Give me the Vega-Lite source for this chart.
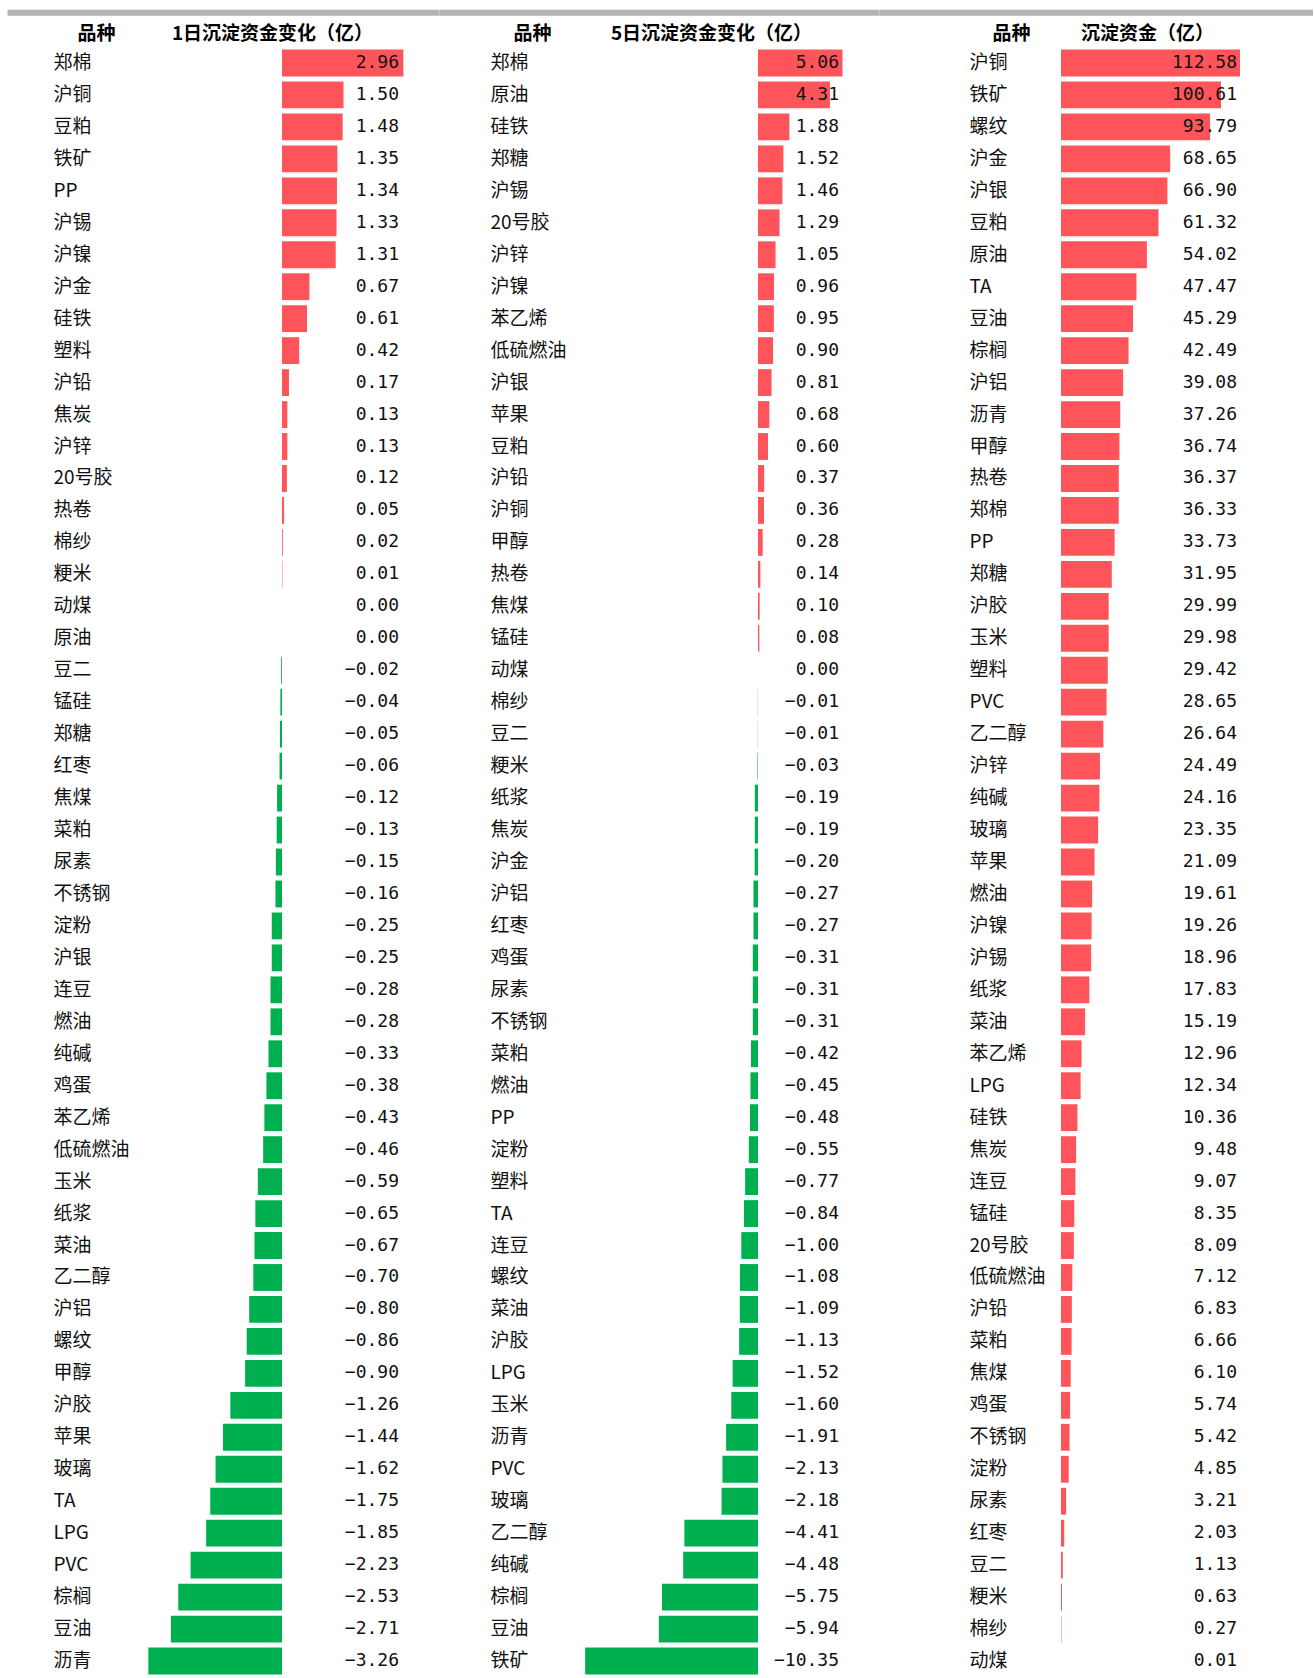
{
  "$schema": "https://vega.github.io/schema/vega-lite/v6.json",
  "background": "white",
  "padding": {"left": 7, "top": 12, "right": 0, "bottom": 0},
  "spacing": 0,
  "bounds": "flush",
  "config": {
    "view": {"stroke": null},
    "axis": {
      "grid": false,
      "ticks": false,
      "tickSize": 0,
      "titleFont": "Noto Sans CJK SC",
      "titleFontSize": 19,
      "titleFontWeight": "bold",
      "titleColor": "#000000",
      "titleAngle": 0,
      "titleAlign": "center",
      "titleBaseline": "middle",
      "labelFont": "Noto Sans CJK SC",
      "labelFontSize": 19,
      "labelColor": "#111111"
    }
  },
  "datasets": {
    "d1": [
      {"name": "郑棉", "value": 2.96}, {"name": "沪铜", "value": 1.50}, {"name": "豆粕", "value": 1.48},
      {"name": "铁矿", "value": 1.35}, {"name": "PP", "value": 1.34}, {"name": "沪锡", "value": 1.33},
      {"name": "沪镍", "value": 1.31}, {"name": "沪金", "value": 0.67}, {"name": "硅铁", "value": 0.61},
      {"name": "塑料", "value": 0.42}, {"name": "沪铅", "value": 0.17}, {"name": "焦炭", "value": 0.13},
      {"name": "沪锌", "value": 0.13}, {"name": "20号胶", "value": 0.12}, {"name": "热卷", "value": 0.05},
      {"name": "棉纱", "value": 0.02}, {"name": "粳米", "value": 0.01}, {"name": "动煤", "value": 0.00},
      {"name": "原油", "value": 0.00}, {"name": "豆二", "value": -0.02}, {"name": "锰硅", "value": -0.04},
      {"name": "郑糖", "value": -0.05}, {"name": "红枣", "value": -0.06}, {"name": "焦煤", "value": -0.12},
      {"name": "菜粕", "value": -0.13}, {"name": "尿素", "value": -0.15}, {"name": "不锈钢", "value": -0.16},
      {"name": "淀粉", "value": -0.25}, {"name": "沪银", "value": -0.25}, {"name": "连豆", "value": -0.28},
      {"name": "燃油", "value": -0.28}, {"name": "纯碱", "value": -0.33}, {"name": "鸡蛋", "value": -0.38},
      {"name": "苯乙烯", "value": -0.43}, {"name": "低硫燃油", "value": -0.46}, {"name": "玉米", "value": -0.59},
      {"name": "纸浆", "value": -0.65}, {"name": "菜油", "value": -0.67}, {"name": "乙二醇", "value": -0.70},
      {"name": "沪铝", "value": -0.80}, {"name": "螺纹", "value": -0.86}, {"name": "甲醇", "value": -0.90},
      {"name": "沪胶", "value": -1.26}, {"name": "苹果", "value": -1.44}, {"name": "玻璃", "value": -1.62},
      {"name": "TA", "value": -1.75}, {"name": "LPG", "value": -1.85}, {"name": "PVC", "value": -2.23},
      {"name": "棕榈", "value": -2.53}, {"name": "豆油", "value": -2.71}, {"name": "沥青", "value": -3.26}
    ],
    "d2": [
      {"name": "郑棉", "value": 5.06}, {"name": "原油", "value": 4.31}, {"name": "硅铁", "value": 1.88},
      {"name": "郑糖", "value": 1.52}, {"name": "沪锡", "value": 1.46}, {"name": "20号胶", "value": 1.29},
      {"name": "沪锌", "value": 1.05}, {"name": "沪镍", "value": 0.96}, {"name": "苯乙烯", "value": 0.95},
      {"name": "低硫燃油", "value": 0.90}, {"name": "沪银", "value": 0.81}, {"name": "苹果", "value": 0.68},
      {"name": "豆粕", "value": 0.60}, {"name": "沪铅", "value": 0.37}, {"name": "沪铜", "value": 0.36},
      {"name": "甲醇", "value": 0.28}, {"name": "热卷", "value": 0.14}, {"name": "焦煤", "value": 0.10},
      {"name": "锰硅", "value": 0.08}, {"name": "动煤", "value": 0.00}, {"name": "棉纱", "value": -0.01},
      {"name": "豆二", "value": -0.01}, {"name": "粳米", "value": -0.03}, {"name": "纸浆", "value": -0.19},
      {"name": "焦炭", "value": -0.19}, {"name": "沪金", "value": -0.20}, {"name": "沪铝", "value": -0.27},
      {"name": "红枣", "value": -0.27}, {"name": "鸡蛋", "value": -0.31}, {"name": "尿素", "value": -0.31},
      {"name": "不锈钢", "value": -0.31}, {"name": "菜粕", "value": -0.42}, {"name": "燃油", "value": -0.45},
      {"name": "PP", "value": -0.48}, {"name": "淀粉", "value": -0.55}, {"name": "塑料", "value": -0.77},
      {"name": "TA", "value": -0.84}, {"name": "连豆", "value": -1.00}, {"name": "螺纹", "value": -1.08},
      {"name": "菜油", "value": -1.09}, {"name": "沪胶", "value": -1.13}, {"name": "LPG", "value": -1.52},
      {"name": "玉米", "value": -1.60}, {"name": "沥青", "value": -1.91}, {"name": "PVC", "value": -2.13},
      {"name": "玻璃", "value": -2.18}, {"name": "乙二醇", "value": -4.41}, {"name": "纯碱", "value": -4.48},
      {"name": "棕榈", "value": -5.75}, {"name": "豆油", "value": -5.94}, {"name": "铁矿", "value": -10.35}
    ],
    "d3": [
      {"name": "沪铜", "value": 112.58}, {"name": "铁矿", "value": 100.61}, {"name": "螺纹", "value": 93.79},
      {"name": "沪金", "value": 68.65}, {"name": "沪银", "value": 66.90}, {"name": "豆粕", "value": 61.32},
      {"name": "原油", "value": 54.02}, {"name": "TA", "value": 47.47}, {"name": "豆油", "value": 45.29},
      {"name": "棕榈", "value": 42.49}, {"name": "沪铝", "value": 39.08}, {"name": "沥青", "value": 37.26},
      {"name": "甲醇", "value": 36.74}, {"name": "热卷", "value": 36.37}, {"name": "郑棉", "value": 36.33},
      {"name": "PP", "value": 33.73}, {"name": "郑糖", "value": 31.95}, {"name": "沪胶", "value": 29.99},
      {"name": "玉米", "value": 29.98}, {"name": "塑料", "value": 29.42}, {"name": "PVC", "value": 28.65},
      {"name": "乙二醇", "value": 26.64}, {"name": "沪锌", "value": 24.49}, {"name": "纯碱", "value": 24.16},
      {"name": "玻璃", "value": 23.35}, {"name": "苹果", "value": 21.09}, {"name": "燃油", "value": 19.61},
      {"name": "沪镍", "value": 19.26}, {"name": "沪锡", "value": 18.96}, {"name": "纸浆", "value": 17.83},
      {"name": "菜油", "value": 15.19}, {"name": "苯乙烯", "value": 12.96}, {"name": "LPG", "value": 12.34},
      {"name": "硅铁", "value": 10.36}, {"name": "焦炭", "value": 9.48}, {"name": "连豆", "value": 9.07},
      {"name": "锰硅", "value": 8.35}, {"name": "20号胶", "value": 8.09}, {"name": "低硫燃油", "value": 7.12},
      {"name": "沪铅", "value": 6.83}, {"name": "菜粕", "value": 6.66}, {"name": "焦煤", "value": 6.10},
      {"name": "鸡蛋", "value": 5.74}, {"name": "不锈钢", "value": 5.42}, {"name": "淀粉", "value": 4.85},
      {"name": "尿素", "value": 3.21}, {"name": "红枣", "value": 2.03}, {"name": "豆二", "value": 1.13},
      {"name": "粳米", "value": 0.63}, {"name": "棉纱", "value": 0.27}, {"name": "动煤", "value": 0.01}
    ]
  },
  "hconcat": [
    {
      "width": 432,
      "height": 1630,
      "data": {"name": "d1"},
      "encoding": {
        "y": {
          "field": "name", "type": "nominal", "sort": null,
          "scale": {"paddingInner": 0.16, "paddingOuter": 0.08},
          "axis": {"title": "品种", "domain": false, "labelAlign": "left", "labelBaseline": "middle", "labelPadding": -46, "labelOverlap": false, "titleX": 89, "titleY": -13.7}
        }
      },
      "layer": [
        {
          "mark": {"type": "bar"},
          "encoding": {
            "x": {
              "field": "value", "type": "quantitative", "stack": null,
              "scale": {"domain": [-6.7073, 3.8293], "nice": false, "zero": false},
              "axis": {"orient": "top", "title": "1日沉淀资金变化（亿）", "labels": false, "domain": true, "domainColor": "#b3b3b3", "domainWidth": 6, "offset": 34.7, "titleX": 265, "titleY": 21}
            },
            "color": {"condition": {"test": "datum.value < 0", "value": "#00B050"}, "value": "#FF555A"}
          }
        },
        {
          "mark": {"type": "text", "align": "right", "baseline": "middle", "font": "DejaVu Sans Mono", "fontSize": 18, "color": "#111111"},
          "encoding": {
            "x": {"datum": 2.8537, "type": "quantitative"},
            "text": {"field": "value", "type": "quantitative", "format": ".2f"}
          }
        }
      ]
    },
    {
      "width": 440,
      "height": 1630,
      "data": {"name": "d2"},
      "encoding": {
        "y": {
          "field": "name", "type": "nominal", "sort": null,
          "scale": {"paddingInner": 0.16, "paddingOuter": 0.08},
          "axis": {"title": "品种", "domain": false, "labelAlign": "left", "labelBaseline": "middle", "labelPadding": -51, "labelOverlap": false, "titleX": 93, "titleY": -13.7}
        }
      },
      "layer": [
        {
          "mark": {"type": "bar"},
          "encoding": {
            "x": {
              "field": "value", "type": "quantitative", "stack": null,
              "scale": {"domain": [-19.102, 7.246], "nice": false, "zero": false},
              "axis": {"orient": "top", "title": "5日沉淀资金变化（亿）", "labels": false, "domain": true, "domainColor": "#b3b3b3", "domainWidth": 6, "offset": 34.7, "titleX": 272, "titleY": 21}
            },
            "color": {"condition": {"test": "datum.value < 0", "value": "#00B050"}, "value": "#FF555A"}
          }
        },
        {
          "mark": {"type": "text", "align": "right", "baseline": "middle", "font": "DejaVu Sans Mono", "fontSize": 18, "color": "#111111"},
          "encoding": {
            "x": {"datum": 4.85, "type": "quantitative"},
            "text": {"field": "value", "type": "quantitative", "format": ".2f"}
          }
        }
      ]
    },
    {
      "width": 434,
      "height": 1630,
      "data": {"name": "d3"},
      "encoding": {
        "y": {
          "field": "name", "type": "nominal", "sort": null,
          "scale": {"paddingInner": 0.16, "paddingOuter": 0.08},
          "axis": {"title": "品种", "domain": false, "labelAlign": "left", "labelBaseline": "middle", "labelPadding": -90, "labelOverlap": false, "titleX": 132, "titleY": -13.7}
        }
      },
      "layer": [
        {
          "mark": {"type": "bar"},
          "encoding": {
            "x": {
              "field": "value", "type": "quantitative", "stack": null,
              "scale": {"domain": [-114.465, 158.49], "nice": false, "zero": false},
              "axis": {"orient": "top", "title": "沉淀资金（亿）", "labels": false, "domain": true, "domainColor": "#b3b3b3", "domainWidth": 6, "offset": 34.7, "titleX": 268, "titleY": 21}
            },
            "color": {"value": "#FF555A"}
          }
        },
        {
          "mark": {"type": "text", "align": "right", "baseline": "middle", "font": "DejaVu Sans Mono", "fontSize": 18, "color": "#111111"},
          "encoding": {
            "x": {"datum": 110.69, "type": "quantitative"},
            "text": {"field": "value", "type": "quantitative", "format": ".2f"}
          }
        }
      ]
    }
  ]
}
